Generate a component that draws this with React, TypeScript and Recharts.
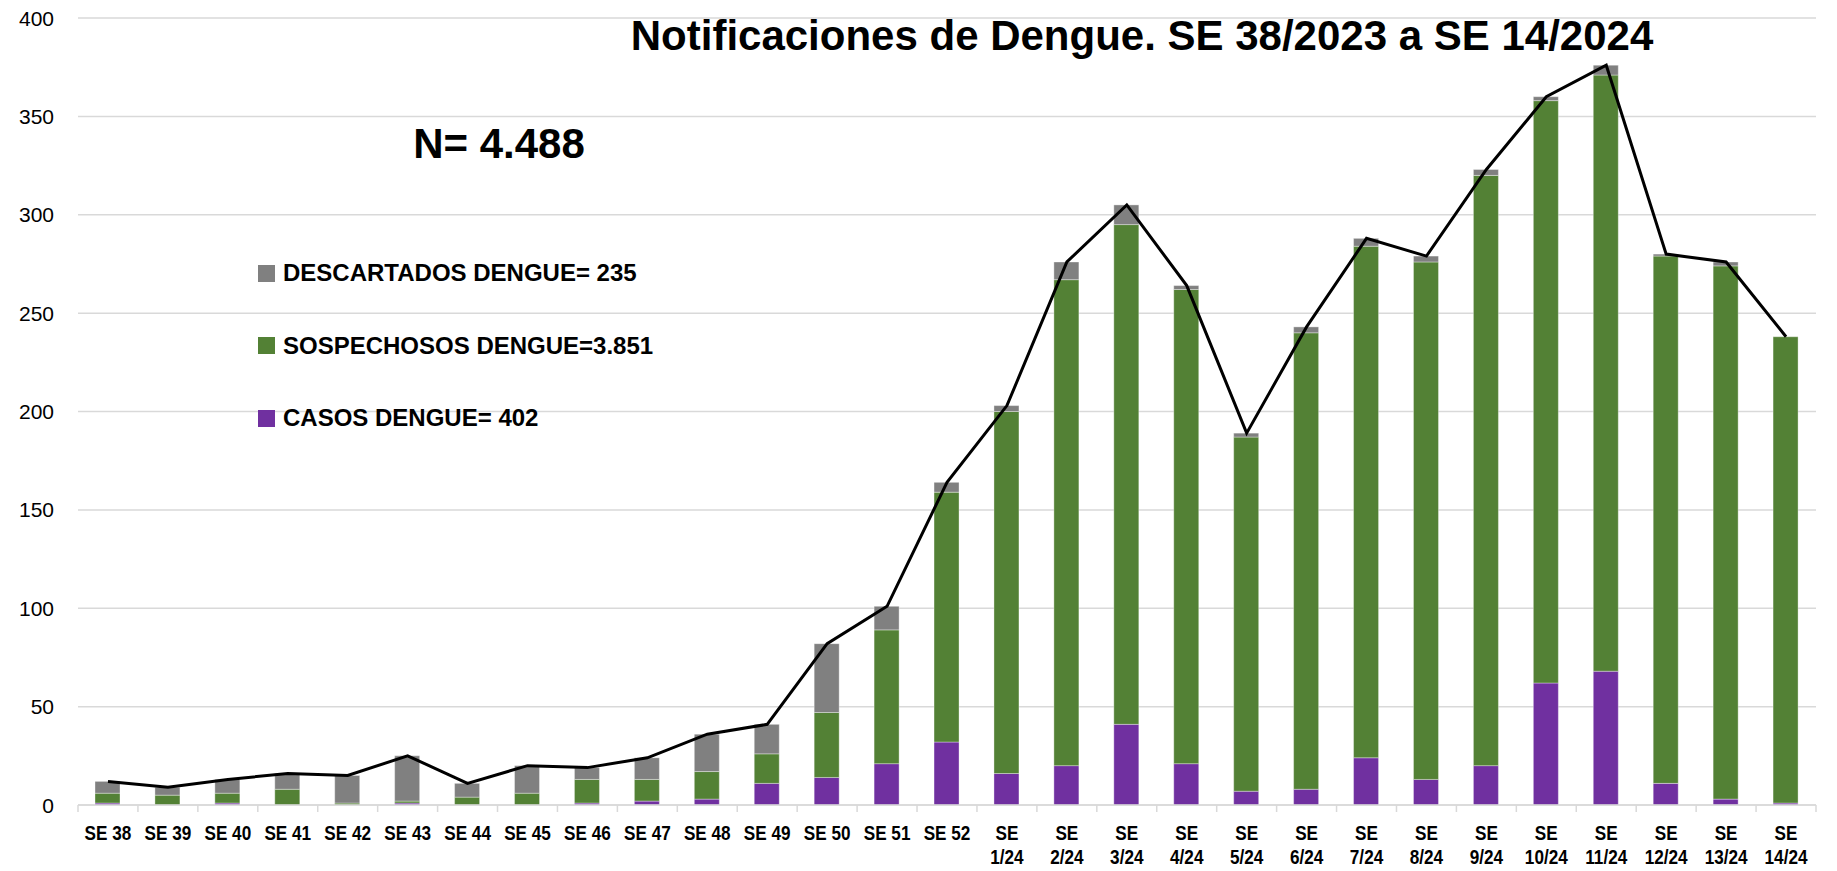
import React from 'react';
import { ComposedChart, Bar, Line, XAxis, YAxis, CartesianGrid, Legend, Customized } from 'recharts';

const weeks = ['SE 38','SE 39','SE 40','SE 41','SE 42','SE 43','SE 44','SE 45','SE 46','SE 47','SE 48','SE 49','SE 50','SE 51','SE 52','SE 1/24','SE 2/24','SE 3/24','SE 4/24','SE 5/24','SE 6/24','SE 7/24','SE 8/24','SE 9/24','SE 10/24','SE 11/24','SE 12/24','SE 13/24','SE 14/24'];
const casos = [1,0,1,0,0,1,0,0,1,2,3,11,14,21,32,16,20,41,21,7,8,24,13,20,62,68,11,3,1];
const sospechosos = [5,5,5,8,1,1,4,6,12,11,14,15,33,68,127,184,247,254,241,180,232,260,263,300,296,303,268,271,237];
const descartados = [6,4,7,8,14,23,7,14,6,11,19,15,35,12,5,3,9,10,2,2,3,4,3,3,2,5,1,2,0];
const yTicks = [0,50,100,150,200,250,300,350,400];

const data = weeks.map((w, i) => ({
  week: w,
  casos: casos[i],
  sospechosos: sospechosos[i],
  descartados: descartados[i],
  total: casos[i] + sospechosos[i] + descartados[i],
}));

const W = 1837;
const H = 871;
const M = { top: 18, right: 21, bottom: 0, left: 0 };
const XH = 66;
const YW = 78;
const BAND = (W - M.left - M.right - YW) / weeks.length;
const FONT = '"Liberation Sans", Arial, sans-serif';

const XTick = (props: any) => {
  const { x, y, payload, index } = props;
  const label: string = payload.value;
  const lines = label.includes('/') ? ['SE', label.replace('SE ', '')] : [label];
  return (
    <g>
      <line x1={x - BAND / 2} x2={x - BAND / 2} y1={y} y2={y + 7} stroke="#d9d9d9" strokeWidth={1.5} />
      {index === weeks.length - 1 && (
        <line x1={x + BAND / 2} x2={x + BAND / 2} y1={y} y2={y + 7} stroke="#d9d9d9" strokeWidth={1.5} />
      )}
      {lines.map((l, i) => (
        <text
          key={i}
          x={0}
          y={0}
          transform={`translate(${x},${y + 35 + i * 24}) scale(0.88,1)`}
          textAnchor="middle"
          fontFamily={FONT}
          fontWeight="bold"
          fontSize={19.5}
          fill="#000"
        >
          {l}
        </text>
      ))}
    </g>
  );
};

const YTick = (props: any) => {
  const { x, y, payload } = props;
  return (
    <text
      x={x - 18}
      y={y + 7.5}
      textAnchor="end"
      fontFamily={FONT}
      fontSize={21}
      fill="#000"
    >
      {payload.value}
    </text>
  );
};

const legendOrder = ['descartados', 'sospechosos', 'casos'];
const LegendContent = (props: any) => {
  const items = [...(props.payload || [])]
    .filter((p: any) => legendOrder.includes(p.dataKey))
    .sort((a: any, b: any) => legendOrder.indexOf(a.dataKey) - legendOrder.indexOf(b.dataKey));
  return (
    <div>
      {items.map((p: any) => (
        <div key={p.dataKey} style={{ display: 'flex', alignItems: 'center', height: 72.5 }}>
          <div style={{ width: 17, height: 17, background: p.color, marginRight: 8 }} />
          <span style={{ fontFamily: FONT, fontWeight: 'bold', fontSize: 24, color: '#000', whiteSpace: 'nowrap' }}>{p.value}</span>
        </div>
      ))}
    </div>
  );
};

const Titles = () => (
  <g>
    <text x={1142} y={50} textAnchor="middle" fontFamily={FONT} fontWeight="bold" fontSize={42} fill="#000">
      Notificaciones de Dengue. SE 38/2023 a SE 14/2024
    </text>
    <text x={499} y={158} textAnchor="middle" fontFamily={FONT} fontWeight="bold" fontSize={42} fill="#000">
      N= 4.488
    </text>
  </g>
);

const EDGE = 'rgba(255,255,255,0.35)';

export default function App() {
  return (
    <div style={{ position: 'absolute', left: 0, top: 0, width: W, height: H, background: '#fff' }}>
      <ComposedChart width={W} height={H} data={data} margin={M}>
        <CartesianGrid vertical={false} stroke="#d9d9d9" strokeWidth={1.5} />
        <XAxis
          dataKey="week"
          interval={0}
          axisLine={{ stroke: '#d9d9d9', strokeWidth: 1.5 }}
          tickLine={false}
          tickSize={0}
          tickMargin={0}
          tick={<XTick />}
          height={XH}
        />
        <YAxis
          width={YW}
          domain={[0, 400]}
          ticks={yTicks}
          axisLine={false}
          tickLine={false}
          tickSize={0}
          tickMargin={6}
          tick={<YTick />}
        />
        <Legend
          layout="vertical"
          verticalAlign="middle"
          align="center"
          content={<LegendContent />}
          wrapperStyle={{ position: 'absolute', left: 258, top: 237, width: 420 }}
        />
        <Bar dataKey="casos" name="CASOS DENGUE= 402" stackId="a" fill="#7030A0" stroke={EDGE} strokeWidth={1} barSize={25} isAnimationActive={false} />
        <Bar dataKey="sospechosos" name="SOSPECHOSOS DENGUE=3.851" stackId="a" fill="#538135" stroke={EDGE} strokeWidth={1} barSize={25} isAnimationActive={false} />
        <Bar dataKey="descartados" name="DESCARTADOS DENGUE= 235" stackId="a" fill="#808080" stroke={EDGE} strokeWidth={1} barSize={25} isAnimationActive={false} />
        <Line dataKey="total" type="linear" stroke="#000" strokeWidth={3} dot={false} activeDot={false} legendType="none" isAnimationActive={false} />
        <Customized component={Titles} />
      </ComposedChart>
    </div>
  );
}
